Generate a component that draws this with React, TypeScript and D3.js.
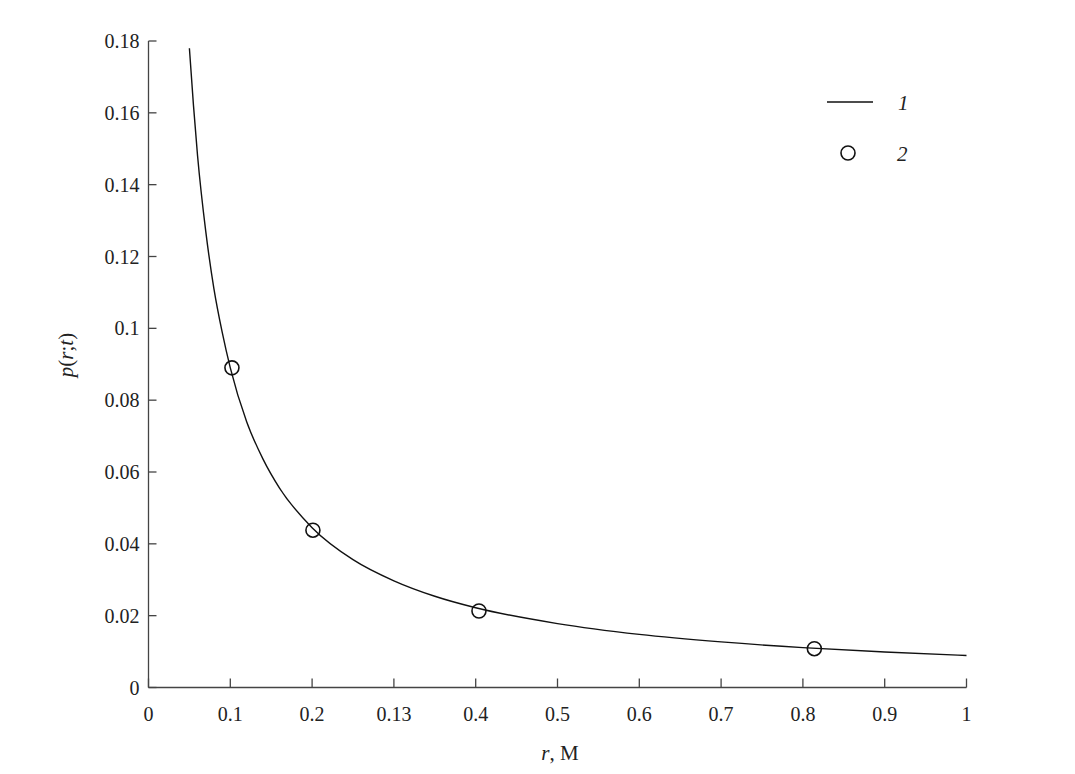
import React from "react";
import * as d3 from "d3";

const xTickValues = [0, 0.1, 0.2, 0.3, 0.4, 0.5, 0.6, 0.7, 0.8, 0.9, 1];
const xTickLabels = ["0", "0.1", "0.2", "0.13", "0.4", "0.5", "0.6", "0.7", "0.8", "0.9", "1"];
const yTickValues = [0, 0.02, 0.04, 0.06, 0.08, 0.1, 0.12, 0.14, 0.16, 0.18];
const yTickLabels = ["0", "0.02", "0.04", "0.06", "0.08", "0.1", "0.12", "0.14", "0.16", "0.18"];

// Curve 1
const curveR = [0.05, 0.055, 0.06, 0.07, 0.08, 0.09, 0.1, 0.12, 0.14, 0.16, 0.2, 0.25, 0.3, 0.35, 0.4, 0.5, 0.6, 0.7, 0.8, 0.9, 1.0];
const curveP = [0.178, 0.162, 0.148, 0.127, 0.111, 0.099, 0.089, 0.074, 0.0636, 0.0556, 0.0445, 0.0356, 0.0297, 0.0254, 0.0222, 0.0178, 0.0148, 0.0127, 0.0111, 0.0099, 0.0089];

// Points 2
const pointR = [0.102, 0.201, 0.404, 0.814];
const pointP = [0.089, 0.0438, 0.0213, 0.0108];

const legendLabels = ["1", "2"];

export default function App() {
  const width = 1075;
  const height = 774;
  const x0 = 148.5, x1 = 966.5;
  const y0 = 687.5, y1 = 41;
  const x = d3.scaleLinear().domain([0, 1]).range([x0, x1]);
  const y = d3.scaleLinear().domain([0, 0.18]).range([y0, y1]);
  const line = d3
    .line<number>()
    .x((_, i) => x(curveR[i]))
    .y((d) => y(d))
    .curve(d3.curveMonotoneX);
  const axisColor = "#444";
  const textColor = "#222";
  const font = "'Liberation Serif', 'Times New Roman', serif";
  const fs = 20;
  const fsT = 21;

  return (
    <svg width={width} height={height} style={{ position: "absolute", left: 0, top: 0, background: "#fff" }} fontFamily={font}>
      <rect x={0} y={0} width={width} height={height} fill="#fff" />
      {/* axes */}
      <line x1={x0} y1={y1} x2={x0} y2={y0} stroke={axisColor} strokeWidth={1.3} />
      <line x1={x0} y1={y0} x2={x1} y2={y0} stroke={axisColor} strokeWidth={1.3} />
      {yTickValues.map((v, i) => (
        <g key={"y" + i}>
          <line x1={x0} x2={x0 + 8} y1={y(v)} y2={y(v)} stroke={axisColor} strokeWidth={1.3} />
          <text x={x0 - 9} y={y(v) + 7} textAnchor="end" fontSize={fs} fill={textColor}>
            {yTickLabels[i]}
          </text>
        </g>
      ))}
      {xTickValues.map((v, i) => (
        <g key={"x" + i}>
          <line x1={x(v)} x2={x(v)} y1={y0} y2={y0 - 9} stroke={axisColor} strokeWidth={1.3} />
          <text x={x(v)} y={721} textAnchor="middle" fontSize={fs} fill={textColor}>
            {xTickLabels[i]}
          </text>
        </g>
      ))}
      {/* axis titles */}
      <text x={560} y={760} textAnchor="middle" fontSize={fsT} fill={textColor}>
        <tspan fontStyle="italic">r</tspan>, M
      </text>
      <text transform={`translate(73,355) rotate(-90)`} textAnchor="middle" fontSize={fsT} fill={textColor}>
        <tspan fontStyle="italic">p</tspan>(<tspan fontStyle="italic">r</tspan>;<tspan fontStyle="italic">t</tspan>)
      </text>
      {/* curve */}
      <path d={line(curveP) || ""} fill="none" stroke="#111" strokeWidth={1.4} />
      {/* points */}
      {pointR.map((r, i) => (
        <circle key={"p" + i} cx={x(r)} cy={y(pointP[i])} r={7} fill="none" stroke="#111" strokeWidth={1.6} />
      ))}
      {/* legend */}
      <line x1={827} x2={873} y1={102} y2={102} stroke="#111" strokeWidth={1.6} />
      <text x={898} y={110} fontSize={fsT} fontStyle="italic" fill={textColor}>{legendLabels[0]}</text>
      <circle cx={848} cy={153} r={7} fill="none" stroke="#111" strokeWidth={1.6} />
      <text x={897} y={161} fontSize={fsT} fontStyle="italic" fill={textColor}>{legendLabels[1]}</text>
    </svg>
  );
}
